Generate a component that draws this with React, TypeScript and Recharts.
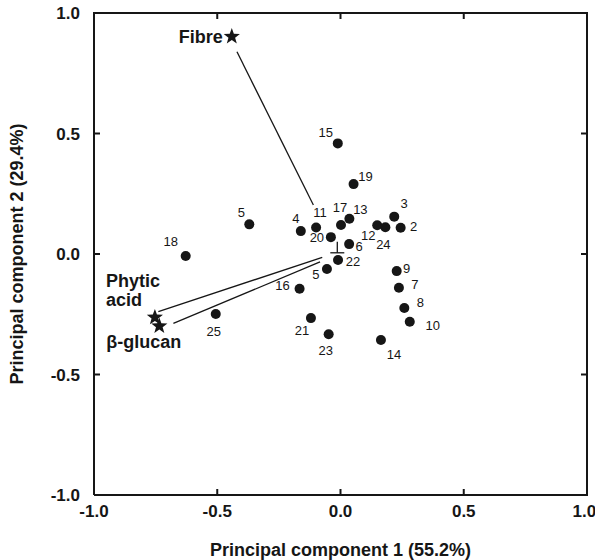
import React from 'react';
import { ScatterChart, Scatter, XAxis, YAxis, ReferenceLine } from 'recharts';

// Sample scores (PC1, PC2)
const SAMPLE_IDS = ['15', '19', '5', '4', '11', '17', '13', '20', '6', '18', '3', '2', '12', '24', '22', '5', '9', '7', '8', '10', '14', '21', '23', '16', '25'];
const PC1_SCORES = [-0.011, 0.053, -0.37, -0.161, -0.099, 0.002, 0.036, -0.039, 0.035, -0.628, 0.218, 0.244, 0.149, 0.182, -0.01, -0.055, 0.228, 0.237, 0.259, 0.281, 0.164, -0.12, -0.048, -0.166, -0.506];
const PC2_SCORES = [0.459, 0.29, 0.123, 0.095, 0.11, 0.12, 0.146, 0.07, 0.041, -0.008, 0.155, 0.109, 0.119, 0.111, -0.025, -0.062, -0.071, -0.14, -0.224, -0.281, -0.357, -0.266, -0.333, -0.144, -0.249];

// Variables (stars) and their loading vectors
const VARIABLE_NAMES = ['Fibre', 'Phytic acid', 'β-glucan'];
const VARIABLE_PC1 = [-0.441, -0.753, -0.735];
const VARIABLE_PC2 = [0.902, -0.263, -0.299];
const VECTOR_FROM_PC1 = [-0.42, -0.739, -0.678];
const VECTOR_FROM_PC2 = [0.839, -0.239, -0.288];
const VECTOR_TO_PC1 = [-0.11, -0.074, -0.083];
const VECTOR_TO_PC2 = [0.203, -0.014, -0.033];

const ORIGIN_MARK = [{ x: -0.013, y: 0.005 }];
const AXIS_TICKS = [-1, -0.5, 0, 0.5, 1];
const INNER_TICKS = [-0.5, 0, 0.5];

// label placement around each dot (px)
const LABEL_OFFSETS: [number, number][] = [
  [-12, -11], [12, -8], [-8, -12], [-5, -13], [4, -15], [-1, -18], [11, -9], [-14, 0], [10, 2], [-15, -14],
  [10, -13], [13, -1], [-9, 10], [-2, 17], [15, 1], [-11, 6], [10, -3], [16, -3], [16, -5], [23, 4],
  [13, 14], [-9, 12], [-3, 16], [-17, -3], [-2, 17],
];

const FONT = '"Liberation Sans", Arial, Helvetica, sans-serif';
const INK = '#161616';

// chart layout
const CHART_W = 595;
const CHART_H = 560;
const MARGIN = { top: 13, right: 8, bottom: 0, left: 0 };
const Y_AXIS_W = 94;
const X_AXIS_H = 65;
const PLOT_W = CHART_W - MARGIN.left - MARGIN.right - Y_AXIS_W;
const PLOT_H = CHART_H - MARGIN.top - MARGIN.bottom - X_AXIS_H;
const TICK_PX = 6;

const samples = SAMPLE_IDS.map((id, i) => ({
  id,
  x: PC1_SCORES[i],
  y: PC2_SCORES[i],
  dx: LABEL_OFFSETS[i][0],
  dy: LABEL_OFFSETS[i][1],
}));

const variables = VARIABLE_NAMES.map((name, i) => ({ name, x: VARIABLE_PC1[i], y: VARIABLE_PC2[i] }));

// top-left corner of the box; the shape draws the top and right edges from it
const frameCorner = [{ x: -1, y: 1 }];

// inward tick marks on the four sides
const tickMarks = INNER_TICKS.flatMap((t) => [
  { x: t, y: -1, side: 'bottom' },
  { x: t, y: 1, side: 'top' },
  { x: -1, y: t, side: 'left' },
  { x: 1, y: t, side: 'right' },
]);

const starPath = (cx: number, cy: number, R: number, r: number) => {
  let d = '';
  for (let i = 0; i < 10; i++) {
    const a = -Math.PI / 2 + (i * Math.PI) / 5;
    const rad = i % 2 === 0 ? R : r;
    d += (i ? 'L' : 'M') + (cx + rad * Math.cos(a)).toFixed(2) + ',' + (cy + rad * Math.sin(a)).toFixed(2);
  }
  return d + 'Z';
};

const FrameShape = (props: any) => {
  const { cx, cy } = props;
  return (
    <path
      d={`M${cx},${cy}H${cx + PLOT_W}V${cy + PLOT_H}`}
      fill="none"
      stroke={INK}
      strokeWidth={2}
      strokeLinecap="square"
    />
  );
};

const TickShape = (props: any) => {
  const { cx, cy, payload } = props;
  let x2 = cx;
  let y2 = cy;
  if (payload.side === 'bottom') y2 = cy - TICK_PX;
  if (payload.side === 'top') y2 = cy + TICK_PX;
  if (payload.side === 'left') x2 = cx + TICK_PX;
  if (payload.side === 'right') x2 = cx - TICK_PX;
  return <line x1={cx} y1={cy} x2={x2} y2={y2} stroke={INK} strokeWidth={2} />;
};

const SampleDot = (props: any) => {
  const { cx, cy, payload } = props;
  return (
    <g>
      <circle cx={cx} cy={cy} r={5} fill={INK} />
      <text
        x={cx + payload.dx}
        y={cy + payload.dy}
        textAnchor="middle"
        dominantBaseline="central"
        fontFamily={FONT}
        fontSize={13}
        fill={INK}
      >
        {payload.id}
      </text>
    </g>
  );
};

const VariableStar = (props: any) => {
  const { cx, cy, payload } = props;
  const textProps = { fontFamily: FONT, fontSize: 18, fontWeight: 700, fill: INK, dominantBaseline: 'central' as const };
  let label: React.ReactNode = null;
  if (payload.name === 'Fibre') {
    label = <text x={cx - 9} y={cy} textAnchor="end" {...textProps}>Fibre</text>;
  } else if (payload.name === 'Phytic acid') {
    label = (
      <g>
        <text x={cx - 49} y={cy - 36} textAnchor="start" {...textProps}>Phytic</text>
        <text x={cx - 49} y={cy - 17} textAnchor="start" {...textProps}>acid</text>
      </g>
    );
  } else {
    label = <text x={cx - 53} y={cy + 16} textAnchor="start" {...textProps}>{payload.name}</text>;
  }
  return (
    <g>
      <path d={starPath(cx, cy, 8.5, 3.5)} fill={INK} />
      {label}
    </g>
  );
};

const OriginMark = (props: any) => {
  const { cx, cy } = props;
  return (
    <g stroke={INK} strokeWidth={1.3}>
      <line x1={cx} y1={cy - 11} x2={cx} y2={cy} />
      <line x1={cx - 7} y1={cy} x2={cx + 7} y2={cy} />
    </g>
  );
};

const fmt = (v: number) => v.toFixed(1);
const tickStyle = { fontFamily: FONT, fontSize: 17, fontWeight: 700, fill: INK };
const axisLine = { stroke: INK, strokeWidth: 2 };

export default function App() {
  return (
    <div style={{ position: 'absolute', left: 0, top: 0, width: CHART_W, height: CHART_H, background: '#fff' }}>
      <ScatterChart width={CHART_W} height={CHART_H} margin={MARGIN}>
        <XAxis
          type="number"
          dataKey="x"
          domain={[-1, 1]}
          ticks={AXIS_TICKS}
          tickFormatter={fmt}
          height={X_AXIS_H}
          tickLine={false}
          tickMargin={4}
          tick={tickStyle}
          axisLine={axisLine}
          label={{
            value: 'Principal component 1 (55.2%)',
            position: 'insideBottom',
            offset: 4,
            style: { fontFamily: FONT, fontSize: 18, fontWeight: 700, fill: INK },
          }}
        />
        <YAxis
          type="number"
          dataKey="y"
          domain={[-1, 1]}
          ticks={AXIS_TICKS}
          tickFormatter={fmt}
          width={Y_AXIS_W}
          tickLine={false}
          tickMargin={8}
          tick={tickStyle}
          axisLine={axisLine}
          label={{
            value: 'Principal component 2 (29.4%)',
            angle: -90,
            position: 'insideLeft',
            offset: 17,
            style: { fontFamily: FONT, fontSize: 18, fontWeight: 700, fill: INK, textAnchor: 'middle' },
          }}
        />
        <Scatter data={frameCorner} shape={FrameShape} isAnimationActive={false} />
        <Scatter data={tickMarks} shape={TickShape} isAnimationActive={false} />
        {VARIABLE_NAMES.map((name, i) => (
          <ReferenceLine
            key={name}
            segment={[
              { x: VECTOR_FROM_PC1[i], y: VECTOR_FROM_PC2[i] },
              { x: VECTOR_TO_PC1[i], y: VECTOR_TO_PC2[i] },
            ]}
            stroke={INK}
            strokeWidth={1.3}
            ifOverflow="visible"
          />
        ))}
        <Scatter data={ORIGIN_MARK} shape={OriginMark} isAnimationActive={false} />
        <Scatter data={samples} shape={SampleDot} isAnimationActive={false} />
        <Scatter data={variables} shape={VariableStar} isAnimationActive={false} />
      </ScatterChart>
    </div>
  );
}
